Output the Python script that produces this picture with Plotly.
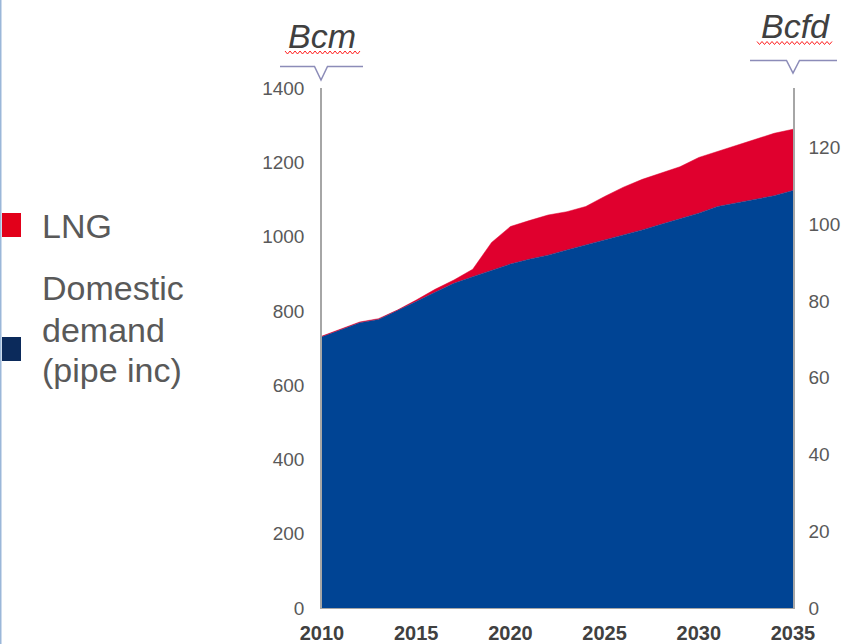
import plotly.graph_objects as go

# ---- data ----
years = list(range(2010, 2036))
domestic_bcm = [730, 750, 768, 777, 800, 825, 850, 874, 892, 910, 926, 939, 950, 964,
                977, 991, 1004, 1018, 1033, 1047, 1063, 1081, 1090, 1100, 1110, 1124]
lng_bcm = [2, 2, 2, 2, 2, 4, 8, 9, 20, 74, 101, 104, 108, 103,
           104, 117, 129, 136, 139, 141, 150, 148, 154, 160, 168, 165]
bcm_to_bcfd = 0.0968
xticks = [2010, 2015, 2020, 2025, 2030, 2035]
left_ticks = [0, 200, 400, 600, 800, 1000, 1200, 1400]
right_ticks = [0, 20, 40, 60, 80, 100, 120]
legend_lng = "LNG"
legend_domestic = ["Domestic", "demand", "(pipe inc)"]

BLUE = "#004494"
RED = "#E0002E"
NAVY = "#0B2A5B"
GREY_TXT = "#595959"
AXIS = "#A6A6A6"
FONT = "Liberation Sans, Arial"

W, H = 841, 644
L, R, T, B = 322, 48, 88, 36
PW, PH = W - L - R, H - T - B


def px(x):
    return (x - L) / PW


def py(y):
    return (H - B - y) / PH


fig = go.Figure()
fig.add_trace(go.Scatter(x=years, y=domestic_bcm, stackgroup="one", mode="lines",
                         line=dict(color=BLUE, width=0.5), fillcolor=BLUE,
                         name="Domestic demand (pipe inc)", hoverinfo="skip"))
fig.add_trace(go.Scatter(x=years, y=lng_bcm, stackgroup="one", mode="lines",
                         line=dict(color=RED, width=0.5), fillcolor=RED,
                         name="LNG", hoverinfo="skip"))
# invisible trace to carry the right-hand Bcfd axis
fig.add_trace(go.Scatter(x=years, y=[v * bcm_to_bcfd for v in domestic_bcm], yaxis="y2",
                         mode="lines", line=dict(width=0, color="rgba(0,0,0,0)"),
                         showlegend=False, hoverinfo="skip"))

tickfont = dict(family=FONT, size=19, color=GREY_TXT)

fig.update_layout(
    width=W, height=H,
    margin=dict(l=L, r=R, t=T, b=B, pad=0, autoexpand=False),
    paper_bgcolor="white", plot_bgcolor="white",
    showlegend=False,
    xaxis=dict(range=[2010, 2035], tickvals=xticks, showgrid=False, zeroline=False,
               showline=True, linecolor=AXIS, linewidth=1, ticks="", automargin=False,
               ticklabelstandoff=7,
               tickfont=dict(family=FONT, size=20, color="#404040", weight="bold")),
    yaxis=dict(range=[0, 1400], tickvals=left_ticks, showgrid=False, zeroline=False,
               showline=True, linecolor=AXIS, linewidth=1.5, ticks="", automargin=False,
               ticklabelstandoff=12, tickfont=tickfont),
    yaxis2=dict(range=[0, 1400 * bcm_to_bcfd], tickvals=right_ticks, overlaying="y",
                side="right", showgrid=False, zeroline=False, showline=True,
                linecolor=AXIS, linewidth=1.5, ticks="", ticklabelstandoff=10,
                automargin=False, tickfont=tickfont),
)

shapes = []
# legend squares
shapes.append(dict(type="rect", xref="paper", yref="paper", x0=px(2), x1=px(21),
                   y0=py(237), y1=py(213), fillcolor="#E2001A", line=dict(width=0)))
shapes.append(dict(type="rect", xref="paper", yref="paper", x0=px(2), x1=px(21),
                   y0=py(361), y1=py(337), fillcolor=NAVY, line=dict(width=0)))
# unit brackets
bracket_col = "#8C8CB8"
for (xa, xb, xv, yh, yv) in [(280, 363, 321, 66.5, 80), (750, 837, 793, 60.5, 73)]:
    path = (f"M {px(xa)},{py(yh)} L {px(xv - 6.5)},{py(yh)} L {px(xv)},{py(yv)} "
            f"L {px(xv + 6.5)},{py(yh)} L {px(xb)},{py(yh)}")
    shapes.append(dict(type="path", xref="paper", yref="paper", path=path,
                       line=dict(color=bracket_col, width=1.5)))
# spell-check wavy underlines
for (xa, xb, yc) in [(285, 361, 52.5), (757, 833, 43)]:
    pts = []
    x = xa
    k = 0
    while x <= xb:
        yy = yc - 1.5 if k % 2 == 0 else yc + 1.5
        pts.append(f"{px(x)},{py(yy)}")
        x += 2.5
        k += 1
    path = "M " + " L ".join(pts)
    shapes.append(dict(type="path", xref="paper", yref="paper", path=path,
                       line=dict(color="#FF2020", width=1)))
# slide edge line at the far left
shapes.append(dict(type="line", xref="paper", yref="paper", x0=px(0.75), x1=px(0.75),
                   y0=py(0), y1=py(H), line=dict(color="#9BB7D9", width=1.5)))
fig.update_layout(shapes=shapes)

LEG_SIZE = 34
ann = []
# legend texts: baseline positions -> box middle ~ baseline - 0.34 em
for text, base in [(legend_lng, 238)] + list(zip(legend_domestic, [300, 341.5, 382])):
    ann.append(dict(text=text, xref="paper", yref="paper", x=px(40),
                    y=py(base - 0.34 * LEG_SIZE), xanchor="left", yanchor="middle",
                    showarrow=False, align="left",
                    font=dict(family=FONT, size=LEG_SIZE, color=GREY_TXT)))
ann.append(dict(text="<i>Bcm</i>", xref="paper", yref="paper", x=px(322), y=py(36),
                xanchor="center", yanchor="middle", showarrow=False,
                font=dict(family=FONT, size=34, color="#404040")))
ann.append(dict(text="<i>Bcfd</i>", xref="paper", yref="paper", x=px(795), y=py(26),
                xanchor="center", yanchor="middle", showarrow=False,
                font=dict(family=FONT, size=34, color="#404040")))
fig.update_layout(annotations=ann)

fig.write_html("out.html",
               config={"displayModeBar": False, "responsive": False},
               post_script="document.body.style.margin='0';document.body.style.padding='0';"
                           "document.body.style.overflow='hidden';")
